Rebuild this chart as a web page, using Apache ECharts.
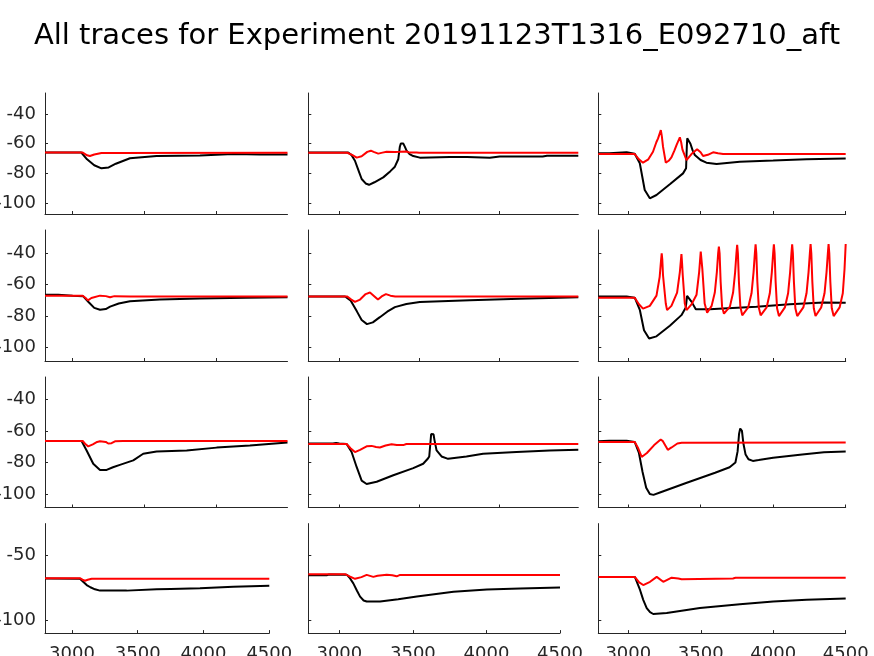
<!DOCTYPE html>
<html>
<head>
<meta charset="utf-8">
<script src="https://cdn.jsdelivr.net/npm/echarts@6/dist/echarts.min.js"></script>
<style>
html,body{margin:0;padding:0;background:#fff;}
#chart{width:874px;height:656px;}
</style>
</head>
<body>
<div id="chart"></div>
<script>
// ---------- data ----------
const titleText = 'All traces for Experiment 20191123T1316_E092710_aft';
const xTickValues = [3000, 3500, 4000, 4500];
const yTickValuesTop = [-100, -80, -60, -40];
const yTickValuesBottom = [-100, -50];

// panel row1 col1
const p11Black = [[2808,-66],[3060,-66],[3100,-70.5],[3150,-74.5],[3200,-76.6],[3250,-76],[3300,-73.5],[3398,-69.8],[3583,-68.3],[3884,-68],[4115,-67],[4300,-67.2],[4492,-67.3]];
const p11Red = [[2808,-66],[3070,-66],[3100,-67.8],[3120,-68.3],[3150,-67.3],[3200,-66.3],[3250,-66.2],[3262,-67],[3275,-66.2],[4492,-66.1]];
// panel row1 col2
const p12Black = [[2806,-66],[2990,-66],[3000,-65.6],[3010,-66],[3056,-66],[3075,-67.5],[3098,-71.5],[3120,-78],[3140,-83.8],[3165,-86.8],[3186,-87.7],[3220,-86],[3275,-82.7],[3320,-78.5],[3348,-75.5],[3369,-70.5],[3379,-62],[3385,-59.8],[3400,-59.8],[3410,-62],[3421,-64.7],[3440,-67],[3463,-68.3],[3504,-69.4],[3692,-69],[3800,-68.9],[3942,-69.4],[4004,-68.6],[4273,-68.6],[4300,-68.1],[4496,-68.1]];
const p12Red = [[2806,-66.1],[3050,-66.1],[3080,-67.5],[3109,-69.4],[3140,-68.5],[3175,-65.5],[3198,-64.7],[3215,-65.5],[3244,-66.7],[3270,-66],[3296,-65.4],[3350,-65.6],[3380,-65.5],[3420,-65.3],[3440,-66],[3484,-65.9],[3500,-66.1],[4496,-66.1]];
// panel row1 col3
const p13Black = [[2795,-66.5],[2870,-66.4],[2876,-65.8],[2990,-65.8],[3000,-66.5],[3046,-66.8],[3081,-73.2],[3115,-91.2],[3150,-96.8],[3196,-94.6],[3288,-87.4],[3379,-80],[3400,-76.5],[3405,-62],[3408,-56.4],[3419,-55.7],[3430,-60],[3445,-64.5],[3460,-67.6],[3500,-71],[3540,-72.8],[3610,-73.7],[3770,-72.1],[4000,-71.4],[4230,-70.5],[4500,-70]];
const p13Red = [[2795,-67],[3046,-67],[3075,-70.5],[3103,-72.8],[3140,-70.5],[3172,-65.4],[3195,-59],[3207,-56.4],[3226,-50.8],[3233,-55],[3241,-62],[3260,-72.8],[3280,-71.5],[3299,-69.2],[3320,-64.5],[3334,-60.9],[3357,-55.7],[3366,-59],[3375,-64],[3403,-71],[3437,-67],[3476,-63.8],[3500,-65.8],[3517,-68.3],[3550,-67.5],[3586,-65.8],[3620,-66.5],[3655,-67],[4500,-67]];
// panel row2 col1
const p21Black = [[2808,-66.5],[2900,-66.5],[3000,-67],[3072,-67.3],[3110,-71],[3150,-74.8],[3190,-76],[3230,-75.5],[3260,-74],[3320,-72],[3398,-70.5],[3606,-69.5],[3884,-68.8],[4200,-68.4],[4492,-68]];
const p21Red = [[2808,-67],[3070,-67],[3090,-68.5],[3106,-70],[3130,-68.5],[3190,-67],[3230,-67.3],[3260,-68],[3290,-67.3],[3400,-67.5],[4492,-67.5]];
// panel row2 col2
const p22Black = [[2806,-67.5],[3036,-67.5],[3070,-70],[3110,-77],[3140,-82.5],[3173,-85.1],[3210,-84],[3254,-80.7],[3300,-77.2],[3348,-74.3],[3420,-72.3],[3504,-71.1],[3817,-70],[4129,-69],[4496,-68]];
const p22Red = [[2806,-67.5],[3050,-67.5],[3075,-69.5],[3098,-71],[3130,-69.5],[3165,-66],[3192,-65],[3215,-67],[3242,-69.5],[3265,-67.5],[3292,-66],[3320,-67],[3350,-67.5],[4496,-67.5]];
// panel row2 col3
const p23Black = [[2795,-67.5],[2990,-67.5],[3000,-68.3],[3046,-68.3],[3081,-76],[3110,-89],[3145,-94.3],[3196,-92.9],[3288,-86.2],[3368,-79.4],[3398,-74.5],[3407,-67.2],[3419,-66.8],[3437,-70.8],[3467,-75.7],[3563,-75.7],[3655,-75.1],[3885,-74],[4115,-72.4],[4345,-71.3],[4500,-71.5]];
const p23Red = [[2795,-68.3],[3046,-68.3],[3075,-72.5],[3103,-75.3],[3150,-73.5],[3196,-67],[3218,-55],[3227,-45],[3232,-40],[3236,-44],[3241,-54],[3260,-72],[3269,-76.2],[3299,-73.5],[3338,-65],[3357,-52],[3368,-40.6],[3372,-46],[3377,-54],[3391,-72],[3403,-76.2],[3437,-72.6],[3472,-66.4],[3490,-52],[3501,-39],[3506,-44],[3512,-50],[3528,-72],[3545,-77.9],
  [3576,-73.5],[3598,-65],[3612,-52],[3621,-40],[3626,-35.8],[3631,-40],[3638,-58],[3648,-74],[3661,-78.5],[3674,-79.4],
  [3702,-74],[3724,-65],[3738,-52],[3747,-40],[3752,-34.7],[3757,-40],[3764,-58],[3774,-74],[3787,-79.5],[3800,-80.4],
  [3828,-74.5],[3851,-65.5],[3865,-52],[3874,-40],[3879,-34.3],[3884,-40],[3891,-58],[3901,-74.5],[3914,-79.5],[3927,-80.4],
  [3955,-74.5],[3977,-65.5],[3991,-52],[4000,-40],[4005,-34.3],[4010,-40],[4017,-58],[4027,-75],[4040,-80],[4053,-81.1],
  [4081,-74.5],[4103,-65.5],[4117,-52],[4126,-40],[4131,-34.3],[4136,-40],[4143,-58],[4153,-75],[4166,-80],[4179,-80.8],
  [4208,-74.5],[4230,-65.5],[4244,-52],[4253,-40],[4258,-34.2],[4263,-40],[4270,-58],[4280,-75],[4292,-80],[4303,-80.8],
  [4331,-74.5],[4354,-65.5],[4368,-52],[4377,-40],[4382,-34.2],[4387,-40],[4394,-58],[4404,-75],[4417,-80],[4430,-80.8],
  [4458,-74.5],[4480,-65.5],[4492,-50],[4500,-34.1]];
// panel row3 col1
const p31Black = [[2808,-66.4],[3062,-66.4],[3097,-72.4],[3143,-80.8],[3190,-84.7],[3236,-84.7],[3280,-83],[3328,-81.5],[3421,-78.7],[3490,-74.5],[3583,-73],[3792,-72.4],[4000,-70.6],[4231,-69.2],[4492,-67.4]];
const p31Red = [[2808,-66.4],[3070,-66.4],[3090,-68.5],[3108,-69.8],[3140,-68.5],[3170,-67],[3190,-66.6],[3230,-67],[3247,-68],[3270,-67.8],[3294,-66.6],[3350,-66.4],[4492,-66.4]];
// panel row3 col2
const p32Black = [[2806,-68],[2960,-68],[2980,-67.7],[3000,-68],[3046,-68.3],[3077,-73.4],[3109,-83],[3140,-91.5],[3171,-93.6],[3234,-92.2],[3338,-88.1],[3463,-83.6],[3525,-80.8],[3555,-77.5],[3563,-76.2],[3570,-68],[3575,-62],[3581,-61.3],[3590,-62.2],[3596,-66],[3609,-72.4],[3640,-76.2],[3681,-77.7],[3796,-76.2],[3900,-74.5],[4109,-73.4],[4317,-72.4],[4496,-72]];
const p32Red = [[2806,-68.3],[3046,-68.3],[3070,-71],[3098,-73.4],[3130,-72],[3171,-69.8],[3202,-69.5],[3230,-70.2],[3254,-70.5],[3290,-69.3],[3327,-68.5],[3360,-69],[3400,-69],[3420,-68.3],[4496,-68.3]];
// panel row3 col3
const p33Black = [[2795,-66.5],[2870,-66.2],[2990,-66.2],[3000,-67],[3046,-67],[3075,-74],[3100,-86],[3125,-96],[3150,-100],[3175,-100.5],[3220,-99],[3400,-93],[3600,-86.5],[3700,-83],[3740,-80],[3755,-73],[3765,-62],[3773,-58.5],[3785,-60],[3795,-68],[3810,-75],[3830,-78],[3860,-79],[3900,-78.5],[4000,-77],[4200,-75],[4350,-73.5],[4500,-73]];
const p33Red = [[2795,-67],[3046,-67],[3070,-71],[3094,-76.5],[3130,-74],[3180,-69],[3225,-65.5],[3240,-66.5],[3274,-72],[3300,-70.5],[3340,-68],[3370,-67.5],[4500,-67.3]];
// panel row4 col1
const p41Black = [[2795,-67.5],[3061,-67.8],[3085,-70],[3112,-72.6],[3140,-74.3],[3175,-75.9],[3213,-76.9],[3416,-76.9],[3644,-75.9],[3750,-75.6],[3973,-75.1],[4226,-73.9],[4500,-73.1]];
const p41Red = [[2795,-67.3],[3060,-67.3],[3080,-68.5],[3099,-69.3],[3120,-68.5],[3150,-67.8],[4500,-67.8]];
// panel row4 col2
const p42Black = [[2789,-65],[2914,-65],[2930,-64.5],[3050,-64.6],[3070,-67],[3095,-71.3],[3120,-77],[3141,-81.5],[3165,-84.5],[3186,-85.3],[3277,-85.3],[3400,-83.5],[3527,-81.5],[3776,-77.7],[4003,-76],[4229,-75.2],[4500,-74.4]];
const p42Red = [[2789,-64.2],[3039,-64.2],[3070,-66],[3107,-67.8],[3150,-66.5],[3186,-64.8],[3231,-66.3],[3260,-65.5],[3322,-64.6],[3360,-65],[3390,-65.9],[3413,-64.8],[4500,-64.8]];
// panel row4 col3
const p43Black = [[2793,-66.5],[3046,-66.5],[3081,-76.4],[3103,-84],[3127,-90.3],[3150,-93.5],[3172,-94.9],[3265,-94.1],[3494,-90.3],[3770,-87.3],[4000,-85.3],[4230,-84],[4500,-83]];
const p43Red = [[2793,-66.5],[3046,-66.5],[3075,-70.5],[3103,-72.6],[3150,-70.1],[3196,-66.3],[3241,-70.1],[3299,-66.9],[3345,-67.5],[3368,-68.2],[3379,-67.5],[3722,-67.5],[3740,-67],[4500,-67]];

// x ranges per panel, y ranges per row
const xRanges = [
  [2808,4492],[2806,4496],[2795,4500],
  [2808,4492],[2806,4496],[2795,4500],
  [2808,4492],[2806,4496],[2795,4500],
  [2795,4500],[2789,4500],[2793,4500]
];
const yRanges = [[-107.4,-25.8],[-108.6,-25.2],[-108.5,-25.9],[-109.6,-25.3]];

const blacks = [p11Black,p12Black,p13Black,p21Black,p22Black,p23Black,p31Black,p32Black,p33Black,p41Black,p42Black,p43Black];
const reds = [p11Red,p12Red,p13Red,p21Red,p22Red,p23Red,p31Red,p32Red,p33Red,p41Red,p42Red,p43Red];

// ---------- layout ----------
const rowTops = [93, 230, 377, 523.6];
const rowHeights = [121, 131, 130.5, 109.5];
const colLefts = [45, 308.3, 598.3];
const colWidthsUpper = [242.5, 270, 247.4];
const colWidthsBottom = [224.3, 251.7, 247.4];

const axisColor = '#262626';
const fontFam = 'DejaVu Sans';
const labelSize = 18;

const grids = [], xAxes = [], yAxes = [], series = [];
for (let r = 0; r < 4; r++) {
  for (let c = 0; c < 3; c++) {
    const i = r * 3 + c;
    grids.push({
      left: colLefts[c], top: rowTops[r],
      width: (r === 3 ? colWidthsBottom : colWidthsUpper)[c],
      height: rowHeights[r], containLabel: false, outerBoundsMode: 'none'
    });
    const xr = xRanges[i];
    const xt = xTickValues.filter(v => v >= xr[0] && v <= xr[1]);
    xAxes.push({
      gridIndex: i, type: 'value', min: xr[0], max: xr[1],
      axisLine: { show: true, onZero: false, lineStyle: { color: axisColor, width: 1 } },
      axisTick: { show: true, inside: true, length: 3, customValues: xt, lineStyle: { color: axisColor, width: 1 } },
      axisLabel: { show: r === 3, customValues: xt, color: axisColor, fontFamily: fontFam, fontSize: labelSize, margin: 12,
                   formatter: v => String(v) },
      splitLine: { show: false }
    });
    const yr = yRanges[r];
    const yt = r === 3 ? yTickValuesBottom : yTickValuesTop;
    yAxes.push({
      gridIndex: i, type: 'value', min: yr[0], max: yr[1],
      axisLine: { show: true, onZero: false, lineStyle: { color: axisColor, width: 1 } },
      axisTick: { show: true, inside: true, length: 3, customValues: yt, lineStyle: { color: axisColor, width: 1 } },
      axisLabel: { show: c === 0, customValues: yt, color: axisColor, fontFamily: fontFam, fontSize: labelSize, margin: 9,
                   formatter: v => String(v) },
      splitLine: { show: false }
    });
    series.push({
      type: 'line', xAxisIndex: i, yAxisIndex: i, data: blacks[i],
      showSymbol: false, symbol: 'none', lineStyle: { color: '#000000', width: 2 },
      itemStyle: { color: '#000000' }, z: 2
    });
    series.push({
      type: 'line', xAxisIndex: i, yAxisIndex: i, data: reds[i],
      showSymbol: false, symbol: 'none', lineStyle: { color: '#ff0000', width: 2 },
      itemStyle: { color: '#ff0000' }, z: 3
    });
  }
}

const chart = echarts.init(document.getElementById('chart'), null, { renderer: 'canvas' });
chart.setOption({
  backgroundColor: '#ffffff',
  animation: false,
  title: {
    text: titleText, left: 'center', top: 17,
    textStyle: { color: '#000000', fontFamily: fontFam, fontSize: 29, fontWeight: 'normal' }
  },
  grid: grids, xAxis: xAxes, yAxis: yAxes, series: series
});
</script>
</body>
</html>
